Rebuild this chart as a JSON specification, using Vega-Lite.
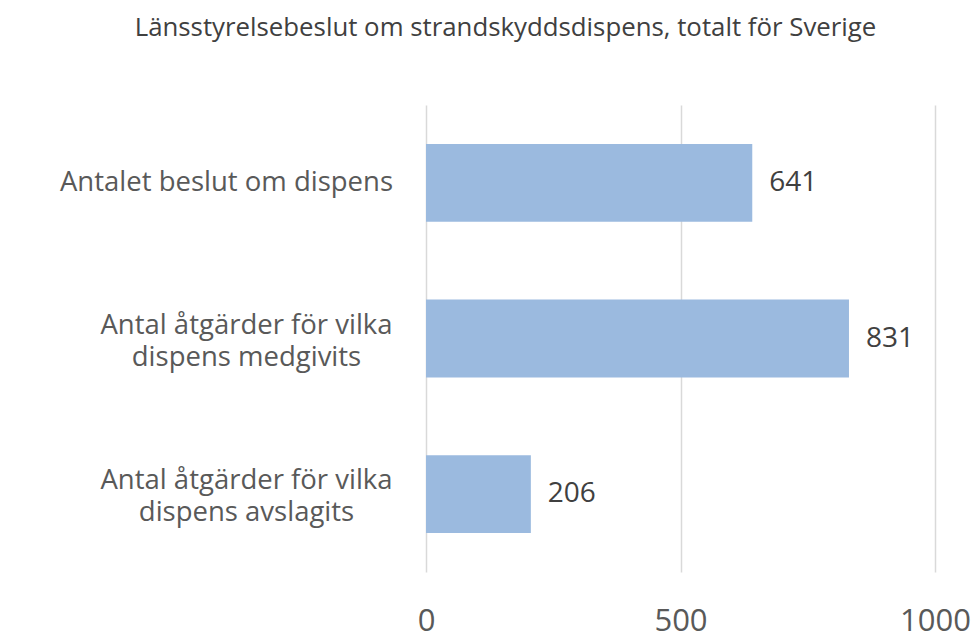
{
  "$schema": "https://vega.github.io/schema/vega-lite/v6.json",
  "width": 509,
  "height": 467,
  "autosize": {"type": "none"},
  "padding": {"left": 426, "top": 105, "right": 44, "bottom": 71},
  "background": "white",
  "config": {"view": {"stroke": null}, "font": "Open Sans"},
  "title": {
    "text": "Länsstyrelsebeslut om strandskyddsdispens, totalt för Sverige",
    "font": "Open Sans",
    "fontSize": 25.8,
    "fontWeight": "normal",
    "color": "#404040",
    "anchor": "middle",
    "frame": "group",
    "dx": -175,
    "offset": 63
  },
  "data": {
    "values": [
      {"kategori": "Antalet beslut om dispens", "antal": 641},
      {"kategori": "Antal åtgärder för vilka|dispens medgivits", "antal": 831},
      {"kategori": "Antal åtgärder för vilka|dispens avslagits", "antal": 206}
    ]
  },
  "encoding": {
    "y": {
      "field": "kategori",
      "type": "nominal",
      "sort": null,
      "title": null,
      "scale": {"paddingInner": 0.5, "paddingOuter": 0.25},
      "axis": {
        "domain": false,
        "ticks": false,
        "grid": false,
        "labelExpr": "split(datum.label, '|')",
        "labelFont": "Open Sans",
        "labelFontSize": 27.5,
        "labelColor": "#595959",
        "labelLineHeight": 32,
        "labelAlign": "center",
        "labelBaseline": "middle",
        "labelLimit": 500,
        "labelOffset": {"condition": {"test": "datum.value == 'Antalet beslut om dispens'", "value": 0}, "value": -13},
        "labelPadding": {"condition": {"test": "datum.value == 'Antalet beslut om dispens'", "value": 200}, "value": 180}
      }
    },
    "x": {
      "field": "antal",
      "type": "quantitative",
      "title": null,
      "scale": {"domain": [0, 1000], "nice": false},
      "axis": {
        "values": [0, 500, 1000],
        "format": "d",
        "domain": false,
        "ticks": false,
        "grid": true,
        "gridColor": "#d9d9d9",
        "gridWidth": 1.5,
        "labelFlush": false,
        "labelFont": "Open Sans",
        "labelFontSize": 31,
        "labelColor": "#595959",
        "labelBaseline": "alphabetic",
        "labelPadding": 58
      }
    }
  },
  "layer": [
    {"mark": {"type": "bar", "color": "#9bbadf"}},
    {
      "mark": {"type": "text", "align": "left", "baseline": "middle", "dx": 17, "fontSize": 28, "font": "Open Sans", "color": "#404040"},
      "encoding": {"text": {"field": "antal", "type": "quantitative"}}
    }
  ]
}
